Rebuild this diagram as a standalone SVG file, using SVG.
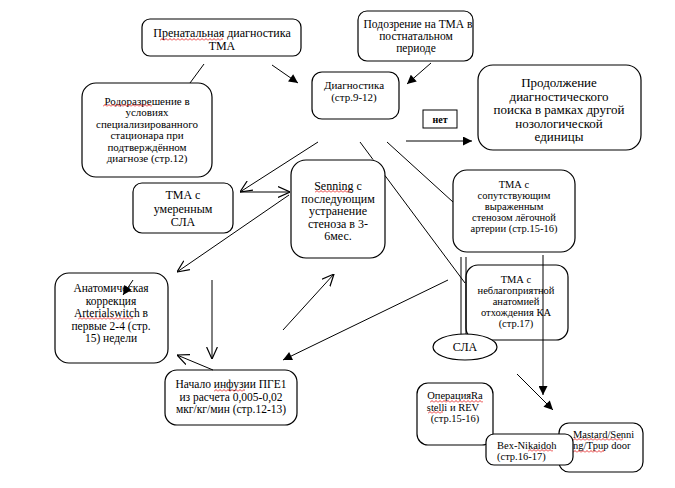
<svg xmlns="http://www.w3.org/2000/svg" width="675" height="488" viewBox="0 0 675 488">
<style>
.box{fill:#fff;stroke:#000;stroke-width:1.2}
.sq{fill:#fff;stroke:#000;stroke-width:1}
text{font-family:'Liberation Serif','DejaVu Serif','Times New Roman',serif;fill:#000}
.t{text-anchor:middle}
.c{stroke:#000;stroke-width:1;fill:none}
.f{marker-end:url(#af)}
.o{marker-end:url(#ao)}
.w{fill:url(#wavy)}
</style>
<defs>
<marker id="af" viewBox="0 0 10 10" refX="10" refY="5" markerWidth="10" markerHeight="9" markerUnits="userSpaceOnUse" orient="auto"><path d="M0,0 L10,5 L0,10 z" fill="#000"/></marker>
<marker id="ao" viewBox="0 0 10 10" refX="10" refY="5" markerWidth="12" markerHeight="12" markerUnits="userSpaceOnUse" orient="auto"><path d="M0,0.5 L10,5 L0,9.5" fill="none" stroke="#000" stroke-width="1"/></marker>
<pattern id="wavy" width="4" height="3" patternUnits="userSpaceOnUse"><path d="M0,2.5 L2,0.5 L4,2.5" fill="none" stroke="#e00000" stroke-width="0.8"/></pattern>
</defs>

<g id="n-prenatal"><rect class="box" x="142" y="19" width="159" height="37" rx="8"/><text class="t" font-family="Liberation Serif, serif" font-size="12"><tspan x="222" y="37">Пренатальная диагностика</tspan><tspan x="222" y="50">ТМА</tspan></text><g transform="translate(160,38)"><rect class="w" width="63" height="3"/></g></g>

<g id="n-suspicion"><rect class="box" x="358" y="11" width="115" height="50" rx="9"/><text class="t" font-size="11.5"><tspan x="418" y="28">Подозрение на ТМА в</tspan><tspan x="416" y="40">постнатальном</tspan><tspan x="416" y="52">периоде</tspan></text></g>

<g id="n-diag"><rect class="box" x="312" y="72" width="87" height="47" rx="10"/><text class="t" font-size="11"><tspan x="354" y="89">Диагностика</tspan><tspan x="354" y="101">(стр.9-12)</tspan></text></g>

<g id="n-continue"><rect class="box" x="478" y="65" width="163" height="85" rx="15"/><text class="t" font-size="13"><tspan x="559" y="87">Продолжение</tspan><tspan x="559" y="100.5">диагностического</tspan><tspan x="559" y="114">поиска в рамках другой</tspan><tspan x="559" y="127.5">нозологической</tspan><tspan x="559" y="141">единицы</tspan></text></g>

<g id="n-no"><rect class="sq" x="423" y="110" width="34" height="18"/><text class="t" font-size="10" font-weight="bold" x="440" y="123">нет</text></g>

<g id="n-delivery"><rect class="box" x="82" y="83" width="130" height="94" rx="14"/><text class="t" font-size="11"><tspan x="147" y="104.5">Родоразрешение в</tspan><tspan x="147" y="116">условиях</tspan><tspan x="147" y="127.5">специализированного</tspan><tspan x="147" y="139">стационара при</tspan><tspan x="147" y="150.5">подтверждённом</tspan><tspan x="147" y="162">диагнозе (стр.12)</tspan></text><g transform="translate(103,104)"><rect class="w" width="49" height="3"/></g></g>

<g id="n-moderate"><rect class="box" x="133" y="183" width="100" height="50" rx="9"/><text class="t" font-size="12"><tspan x="183" y="199">ТМА с</tspan><tspan x="183" y="213">умеренным</tspan><tspan x="183" y="226">СЛА</tspan></text></g>

<g id="n-senning"><rect class="box" x="291" y="160" width="94" height="98" rx="15"/><text class="t" font-size="12"><tspan x="338" y="190">Senning с</tspan><tspan x="338" y="202.5">последующим</tspan><tspan x="338" y="215">устранение</tspan><tspan x="338" y="227.5">стеноза в 3-</tspan><tspan x="338" y="240">6мес.</tspan></text><g transform="translate(315,190)"><rect class="w" width="36" height="3"/></g></g>

<g id="n-stenosis"><rect class="box" x="453" y="170" width="122" height="82" rx="14"/><text class="t" font-size="10.5"><tspan x="514" y="188">ТМА с</tspan><tspan x="514" y="199">сопутствующим</tspan><tspan x="514" y="210">выраженным</tspan><tspan x="514" y="221">стенозом лёгочной</tspan><tspan x="514" y="232">артерии (стр.15-16)</tspan></text></g>

<g id="n-coronary"><rect class="box" x="466" y="265" width="102" height="75" rx="12"/><text class="t" font-size="10.5"><tspan x="516" y="283">ТМА с</tspan><tspan x="516" y="294">неблагоприятной</tspan><tspan x="516" y="305">анатомией</tspan><tspan x="516" y="316">отхождения КА</tspan><tspan x="516" y="327">(стр.17)</tspan></text></g>

<g id="n-anatomical"><rect class="box" x="55" y="273" width="113" height="90" rx="14"/><text class="t" font-size="11.5"><tspan x="111" y="292">Анатомическая</tspan><tspan x="111" y="304.5">коррекция</tspan><tspan x="111" y="317">Arterialswitch в</tspan><tspan x="111" y="329.5">первые 2-4 (стр.</tspan><tspan x="111" y="342">15) недели</tspan></text><g transform="translate(78,317)"><rect class="w" width="55" height="3"/></g></g>

<g id="n-pge"><rect class="box" x="165" y="370" width="132" height="55" rx="12"/><text class="t" font-size="11.5"><tspan x="231" y="388">Начало инфузии ПГЕ1</tspan><tspan x="231" y="400.5">из расчета 0,005-0,02</tspan><tspan x="231" y="413">мкг/кг/мин (стр.12-13)</tspan></text><g transform="translate(214,389)"><rect class="w" width="31" height="3"/></g></g>

<g id="n-rastelli"><rect class="box" x="417" y="383" width="76" height="62" rx="11"/><text class="t" font-size="10.5"><tspan x="455" y="399">ОперацияRa</tspan><tspan x="453" y="410.5">stelli и REV</tspan><tspan x="455" y="422">(стр.15-16)</tspan></text><g transform="translate(430,400)"><rect class="w" width="53" height="3"/></g><g transform="translate(428,411)"><rect class="w" width="15" height="3"/></g></g>

<g id="n-mastard"><rect class="box" x="559" y="423" width="84" height="49" rx="10"/><text font-size="10.5"><tspan x="573" y="438">Mastard/Senni</tspan><tspan x="573" y="449">ng/Tpup door</tspan></text><g transform="translate(573,438)"><rect class="w" width="50" height="3"/></g><g transform="translate(573,450)"><rect class="w" width="31" height="3"/></g></g>

<g id="n-bex"><rect class="box" x="486" y="434" width="87" height="31" rx="8"/><text font-size="10.5"><tspan x="497" y="449">Bex-Nikaidoh</tspan><tspan x="497" y="460">(стр.16-17)</tspan></text><g transform="translate(528,449)"><rect class="w" width="25" height="3"/></g></g>

<g id="connectors">
<line class="c" x1="204" y1="64" x2="190" y2="83"/>
<line class="c f" x1="272" y1="65" x2="298" y2="83"/>
<line class="c f" x1="431" y1="63" x2="407" y2="84"/>
<line class="c f" x1="406" y1="141" x2="472" y2="141"/>
<line class="c o" x1="318" y1="142" x2="240" y2="192"/>
<line class="c o" x1="240" y1="192" x2="290" y2="192"/>
<line class="c o" x1="289" y1="195" x2="177" y2="272"/>
<line class="c" x1="360" y1="142" x2="373" y2="159.5"/>
<line class="c" x1="385" y1="175.6" x2="465" y2="283"/>
<line class="c" x1="387" y1="142" x2="453" y2="202"/>
<line class="c" x1="461" y1="257" x2="461" y2="336"/>
<line class="c" x1="466" y1="257" x2="466" y2="335"/>
<line class="c f" x1="543" y1="255" x2="543" y2="395"/>
<line class="c f" x1="448" y1="280" x2="283" y2="360"/>
<line class="c o" x1="283" y1="330" x2="334" y2="274"/>
<line class="c o" x1="212" y1="280" x2="212" y2="359"/>
<line class="c o" x1="213" y1="370" x2="177" y2="355"/>
<line class="c f" x1="133" y1="280" x2="123" y2="295"/>
<line class="c f" x1="517" y1="374" x2="553" y2="410"/>
</g>

<g id="n-sla"><ellipse class="box" cx="465" cy="347" rx="32" ry="13"/><text class="t" font-size="12" x="465" y="351">СЛА</text></g>
</svg>
